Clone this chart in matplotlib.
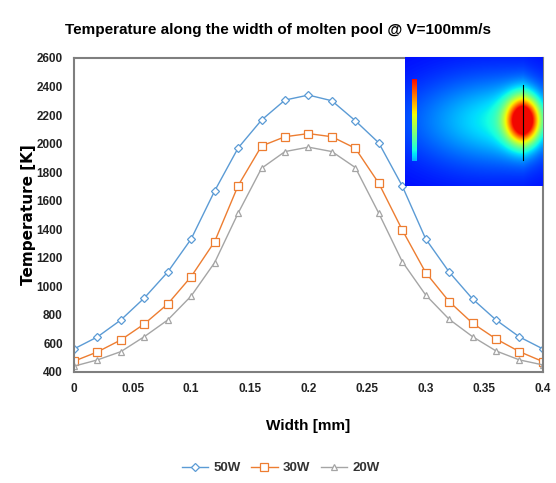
import numpy as np
import matplotlib
matplotlib.use("Agg")
import matplotlib.pyplot as plt

plt.rcParams['font.family'] = ['Liberation Sans Narrow', 'Liberation Sans', 'DejaVu Sans']

# ancho del charco (mm)
width = [0.00, 0.02, 0.04, 0.06, 0.08, 0.10, 0.12, 0.14, 0.16, 0.18, 0.20,
         0.22, 0.24, 0.26, 0.28, 0.30, 0.32, 0.34, 0.36, 0.38, 0.40]

t_50w = [561, 645, 764, 918, 1100, 1332, 1668, 1969, 2165, 2305, 2340,
         2300, 2160, 2005, 1703, 1332, 1100, 911, 764, 645, 561]
t_30w = [475, 540, 624, 736, 876, 1068, 1313, 1705, 1983, 2048, 2070,
         2048, 1967, 1722, 1395, 1096, 893, 741, 631, 542, 472]
t_20w = [440, 484, 542, 647, 764, 932, 1166, 1512, 1827, 1944, 1975,
         1944, 1832, 1512, 1173, 939, 769, 647, 547, 484, 449]

series_labels = ['50W', '30W', '20W']
x_ticks = [0, 0.05, 0.1, 0.15, 0.2, 0.25, 0.3, 0.35, 0.4]
x_tick_labels = ['0', '0.05', '0.1', '0.15', '0.2', '0.25', '0.3', '0.35', '0.4']
y_ticks = list(range(400, 2601, 200))

fig = plt.figure(figsize=(5.56, 4.83), dpi=100)
ax = fig.add_axes([0.133, 0.230, 0.8435, 0.650])

styles = [('#5B9BD5', 'D', 4), ('#ED7D31', 's', 6), ('#A5A5A5', '^', 5)]
for vals, lab, (c, m, ms) in zip([t_50w, t_30w, t_20w], series_labels, styles):
    ax.plot(width, vals, color=c, lw=1.0, marker=m, ms=ms, mfc='white',
            mec=c, mew=0.9, label=lab)

ax.set_xlim(0, 0.4)
ax.set_ylim(400, 2600)
ax.set_xticks(x_ticks)
ax.set_xticklabels(x_tick_labels)
ax.set_yticks(y_ticks)
ax.tick_params(length=0, labelsize=8.5, pad=8, colors='#222222')
for lbl in ax.get_xticklabels() + ax.get_yticklabels():
    lbl.set_fontweight('bold')
for s in ax.spines.values():
    s.set_color('#7f7f7f')
    s.set_linewidth(1.5)

ax.set_xlabel('Width [mm]', fontsize=11, fontweight='bold', labelpad=17)
ax.set_ylabel('Temperature [K]', fontsize=11, fontweight='bold', labelpad=0,
              family=['DejaVu Sans'])
fig.text(0.5, 0.937, 'Temperature along the width of molten pool @ V=100mm/s',
         ha='center', va='center', fontsize=11, fontweight='bold')

leg = fig.legend(loc='center', bbox_to_anchor=(0.505, 0.031), ncol=3,
                 frameon=False, handlelength=2.0, columnspacing=0.8,
                 handletextpad=0.4, fontsize=9.5)
for t in leg.get_texts():
    t.set_fontweight('bold')
    t.set_color('#333333')

# recuadro: campo de temperatura simulado (imagen decorativa)
ins = fig.add_axes([0.728, 0.615, 0.248, 0.267])
gx, gy = np.meshgrid(np.linspace(0, 1, 300), np.linspace(0, 1, 280))
cx, cy = 0.86, 0.49
base = 0.13 + 0.12 * np.exp(-((gx - 0.55) / 0.55) ** 2 - ((gy - 0.5) / 0.40) ** 2)
tail = np.where(gx < cx, np.exp(-(cx - gx) / 0.38), np.exp(-(gx - cx) / 0.14))
tail = tail * np.exp(-((gy - cy) / 0.28) ** 2)
spot = np.exp(-(((gx - cx) / 0.12) ** 2 + ((gy - cy) / 0.17) ** 2))
field = np.clip(base + 0.24 * tail + 0.75 * spot, 0, 0.9)
ins.imshow(field, cmap='jet', vmin=0, vmax=1.0, aspect='auto',
           extent=[0, 1, 1, 0], interpolation='bilinear')
bar = np.linspace(0.9, 0.3, 100)[:, None]
ins.imshow(bar, cmap='jet', vmin=0, vmax=1, aspect='auto',
           extent=[0.05, 0.085, 0.81, 0.18])
ins.plot([0.86, 0.86], [0.22, 0.80], color='black', lw=0.8)
ins.set_xlim(0, 1)
ins.set_ylim(1, 0)
ins.set_xticks([])
ins.set_yticks([])
for s in ins.spines.values():
    s.set_visible(False)

fig.savefig('out.png', dpi=100)
